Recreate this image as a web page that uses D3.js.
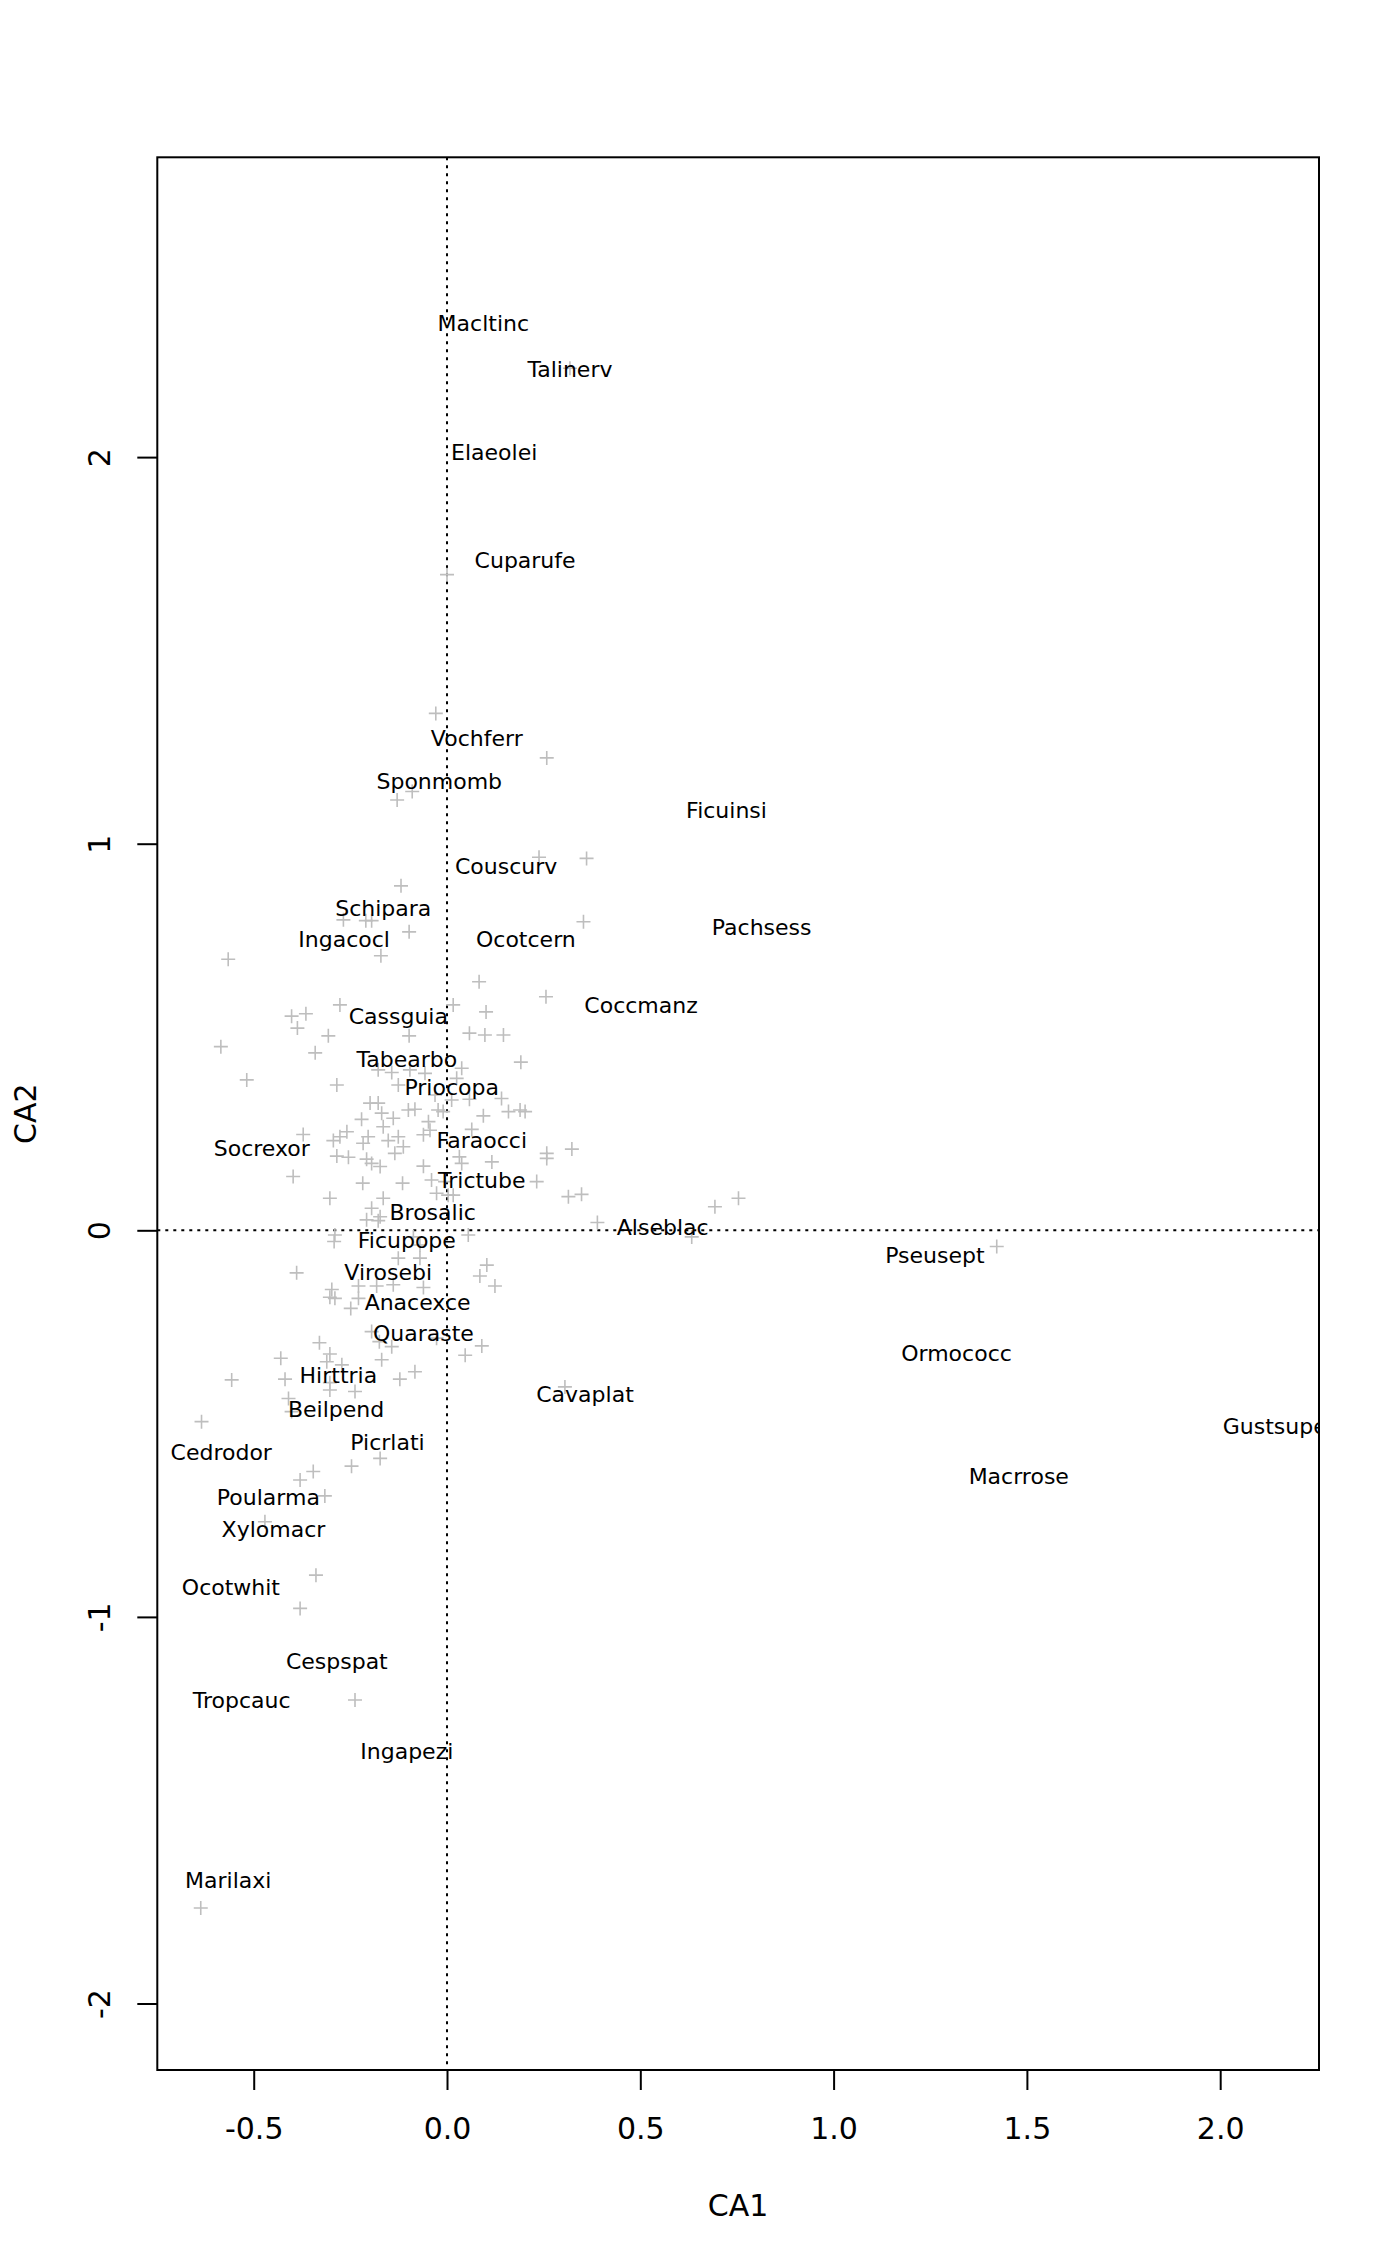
<!DOCTYPE html>
<html>
<head>
<meta charset="utf-8">
<script src="https://cdn.jsdelivr.net/npm/d3@7"></script>
<style>
  body { margin: 0; background: #fff; }
  text { font-family: "DejaVu Sans", sans-serif; }
</style>
</head>
<body>
<div id="chart"></div>
<script>
// labelled species (CA1, CA2)
const labelNames = ["Macltinc", "Talinerv", "Elaeolei", "Cuparufe", "Vochferr", "Sponmomb", "Ficuinsi",
    "Couscurv", "Schipara", "Ocotcern", "Ingacocl", "Pachsess", "Coccmanz", "Cassguia", "Tabearbo",
    "Priocopa", "Socrexor", "Faraocci", "Trictube", "Brosalic", "Alseblac", "Ficupope", "Pseusept",
    "Virosebi", "Anacexce", "Quaraste", "Ormococc", "Hirttria", "Cavaplat", "Beilpend", "Gustsupe",
    "Picrlati", "Cedrodor", "Macrrose", "Poularma", "Xylomacr", "Ocotwhit", "Cespspat", "Tropcauc",
    "Ingapezi", "Marilaxi"];
const labelCA1 = [0.094, 0.318, 0.122, 0.202, 0.077, -0.020, 0.723,
    0.153, -0.165, 0.204, -0.266, 0.814, 0.502, -0.126, -0.104,
    0.012, -0.479, 0.090, 0.090, -0.037, 0.558, -0.104, 1.262,
    -0.152, -0.076, -0.061, 1.318, -0.281, 0.357, -0.287, 2.141,
    -0.154, -0.584, 1.479, -0.462, -0.449, -0.559, -0.285, -0.531,
    -0.104, -0.566];
const labelCA2 = [2.346, 2.227, 2.014, 1.734, 1.273, 1.162, 1.086,
    0.941, 0.833, 0.753, 0.753, 0.785, 0.583, 0.553, 0.442,
    0.371, 0.212, 0.234, 0.130, 0.046, 0.009, -0.025, -0.064,
    -0.107, -0.185, -0.265, -0.318, -0.374, -0.424, -0.463, -0.506,
    -0.549, -0.573, -0.637, -0.689, -0.773, -0.923, -1.113, -1.215,
    -1.346, -1.682];

// species drawn as points only
const pointCA1 = [0.318, 0.000, -0.029, 0.258, -0.090, -0.129, 0.238, -0.119,
    -0.268, -0.210, -0.195, -0.098, -0.171, -0.566, 0.083, 0.256, -0.277, 0.016,
    -0.402, -0.365, 0.101, -0.387, -0.307, -0.098, 0.058, 0.098, 0.146, -0.585,
    -0.341, 0.191, 0.038, -0.518, -0.285, -0.178, -0.143, -0.096, -0.057, 0.025,
    -0.126, -0.031, 0.012, 0.058, 0.141, -0.199, -0.178, -0.169, -0.139, -0.100,
    -0.083, -0.023, -0.010, 0.094, 0.159, 0.189, 0.202, -0.221, -0.165, -0.048,
    -0.044, 0.064, -0.372, -0.259, -0.277, -0.294, -0.204, -0.217, -0.152, -0.126,
    -0.113, -0.061, 0.258, 0.258, 0.323, -0.285, -0.255, -0.208, -0.195, -0.173,
    -0.135, -0.061, 0.032, 0.038, 0.116, -0.398, -0.218, -0.115, -0.040, -0.005,
    0.232, -0.027, 0.003, 0.016, 0.314, -0.303, -0.165, 0.361, 0.353, 0.348,
    0.389, 0.693, 0.754, 0.633, 1.422, 0.305, -0.195, -0.208, -0.178, -0.173,
    -0.290, -0.292, -0.087, -0.070, 0.055, -0.126, -0.070, -0.389, 0.103, 0.085,
    0.124, -0.229, -0.182, -0.139, -0.061, -0.298, -0.303, -0.290, -0.229, -0.249,
    -0.195, -0.175, -0.143, -0.027, 0.090, 0.047, -0.330, -0.430, -0.303, -0.311,
    -0.272, -0.169, -0.083, -0.122, -0.557, -0.419, -0.303, -0.303, -0.238, -0.410,
    -0.402, -0.635, -0.173, -0.247, -0.346, -0.380, -0.316, -0.471, -0.339, -0.380,
    -0.238, -0.637];
const pointCA2 = [2.230, 1.696, 1.337, 1.222, 1.135, 1.113, 0.965, 0.891,
    0.803, 0.801, 0.801, 0.772, 0.710, 0.701, 0.643, 0.604, 0.583, 0.583,
    0.554, 0.560, 0.565, 0.523, 0.503, 0.503, 0.510, 0.505, 0.505, 0.475,
    0.459, 0.435, 0.419, 0.389, 0.376, 0.415, 0.408, 0.415, 0.406, 0.393,
    0.376, 0.350, 0.337, 0.339, 0.341, 0.329, 0.329, 0.303, 0.290, 0.311,
    0.313, 0.311, 0.307, 0.296, 0.307, 0.311, 0.307, 0.287, 0.268, 0.281,
    0.259, 0.261, 0.248, 0.255, 0.242, 0.232, 0.242, 0.225, 0.232, 0.242,
    0.216, 0.247, 0.199, 0.186, 0.210, 0.192, 0.189, 0.184, 0.173, 0.165,
    0.199, 0.166, 0.190, 0.173, 0.177, 0.139, 0.122, 0.122, 0.130, 0.126,
    0.126, 0.096, 0.091, 0.091, 0.087, 0.083, 0.083, 0.962, 0.798, 0.093,
    0.020, 0.061, 0.083, -0.017, -0.042, -0.405, 0.057, 0.027, 0.025, 0.035,
    -0.012, -0.029, -0.017, -0.038, -0.012, -0.072, -0.072, -0.110, -0.090, -0.118,
    -0.144, -0.144, -0.144, -0.141, -0.148, -0.153, -0.173, -0.176, -0.176, -0.202,
    -0.262, -0.288, -0.301, -0.279, -0.299, -0.323, -0.291, -0.331, -0.320, -0.340,
    -0.348, -0.335, -0.366, -0.385, -0.387, -0.385, -0.394, -0.413, -0.417, -0.435,
    -0.469, -0.495, -0.590, -0.610, -0.624, -0.646, -0.687, -0.754, -0.892, -0.978,
    -1.215, -1.753];

const xTicks = [-0.5, 0.0, 0.5, 1.0, 1.5, 2.0];
const yTicks = [-2, -1, 0, 1, 2];
const xTitle = "CA1";
const yTitle = "CA2";

const width = 1400, height = 2266;
const plot = { left: 157.3, right: 1319, top: 157.3, bottom: 2070 };

const svg = d3.select("#chart").append("svg")
    .attr("width", width)
    .attr("height", height)
    .style("background", "#fff");

// equal aspect scales, one unit = ~386.6 px on both axes
const x = d3.scaleLinear()
    .domain([-0.7494, 2.2556])
    .range([plot.left, plot.right]);
const y = d3.scaleLinear()
    .domain([-2.172, 2.7755])
    .range([plot.bottom, plot.top]);

svg.append("clipPath")
    .attr("id", "plot-clip")
    .append("rect")
    .attr("x", plot.left)
    .attr("y", plot.top)
    .attr("width", plot.right - plot.left)
    .attr("height", plot.bottom - plot.top);

const inner = svg.append("g").attr("clip-path", "url(#plot-clip)");

// dotted origin lines
inner.append("line")
    .attr("x1", x(0)).attr("x2", x(0))
    .attr("y1", plot.top).attr("y2", plot.bottom)
    .attr("stroke", "#000").attr("stroke-width", 2)
    .attr("stroke-dasharray", "3,5");
inner.append("line")
    .attr("x1", plot.left).attr("x2", plot.right)
    .attr("y1", y(0)).attr("y2", y(0))
    .attr("stroke", "#000").attr("stroke-width", 2)
    .attr("stroke-dasharray", "3,5");

// points
const pts = pointCA1.map((d, i) => ({ ca1: d, ca2: pointCA2[i] }));
inner.selectAll(".pt")
    .data(pts)
    .enter().append("path")
    .attr("class", "pt")
    .attr("d", "M-7,0H7M0,-7V7")
    .attr("transform", d => "translate(" + x(d.ca1) + "," + y(d.ca2) + ")")
    .attr("stroke", "#bebebe")
    .attr("stroke-width", 1.6)
    .attr("fill", "none");

// labels
const labs = labelNames.map((d, i) => ({ name: d, ca1: labelCA1[i], ca2: labelCA2[i] }));
inner.selectAll(".lab")
    .data(labs)
    .enter().append("text")
    .attr("class", "lab")
    .attr("x", d => x(d.ca1))
    .attr("y", d => y(d.ca2))
    .attr("dy", "0.36em")
    .attr("text-anchor", "middle")
    .style("font-size", "22px")
    .attr("fill", "#000")
    .text(d => d.name);

// box
svg.append("rect")
    .attr("x", plot.left)
    .attr("y", plot.top)
    .attr("width", plot.right - plot.left)
    .attr("height", plot.bottom - plot.top)
    .attr("fill", "none")
    .attr("stroke", "#000")
    .attr("stroke-width", 2);

// axes (R style labels, plain hyphen minus)
const xAxis = d3.axisBottom(x)
    .tickValues(xTicks)
    .tickSize(20)
    .tickPadding(28)
    .tickFormat(d => d.toFixed(1));

const xg = svg.append("g")
    .attr("transform", "translate(0," + plot.bottom + ")")
    .call(xAxis);
xg.select(".domain").remove();
xg.selectAll(".tick line").attr("stroke-width", 2);
xg.selectAll(".tick text")
    .style("font-size", "30px")
    .style("font-family", "DejaVu Sans, sans-serif")
    .attr("fill", "#000");

const yAxis = d3.axisLeft(y)
    .tickValues(yTicks)
    .tickSize(20)
    .tickFormat(d => String(d));

const yg = svg.append("g")
    .attr("transform", "translate(" + plot.left + ",0)")
    .call(yAxis);
yg.select(".domain").remove();
yg.selectAll(".tick line").attr("stroke-width", 2);
yg.selectAll(".tick text")
    .attr("x", null)
    .attr("dy", "0.36em")
    .attr("text-anchor", "middle")
    .attr("transform", "translate(-58,0) rotate(-90)")
    .style("font-size", "30px")
    .style("font-family", "DejaVu Sans, sans-serif")
    .attr("fill", "#000");

// axis titles
svg.append("text")
    .attr("x", (plot.left + plot.right) / 2)
    .attr("y", 2205)
    .attr("dy", "0.36em")
    .attr("text-anchor", "middle")
    .style("font-size", "30px")
    .text(xTitle);

svg.append("text")
    .attr("transform", "translate(25," + (plot.top + plot.bottom) / 2 + ") rotate(-90)")
    .attr("dy", "0.36em")
    .attr("text-anchor", "middle")
    .style("font-size", "30px")
    .text(yTitle);
</script>
</body>
</html>
